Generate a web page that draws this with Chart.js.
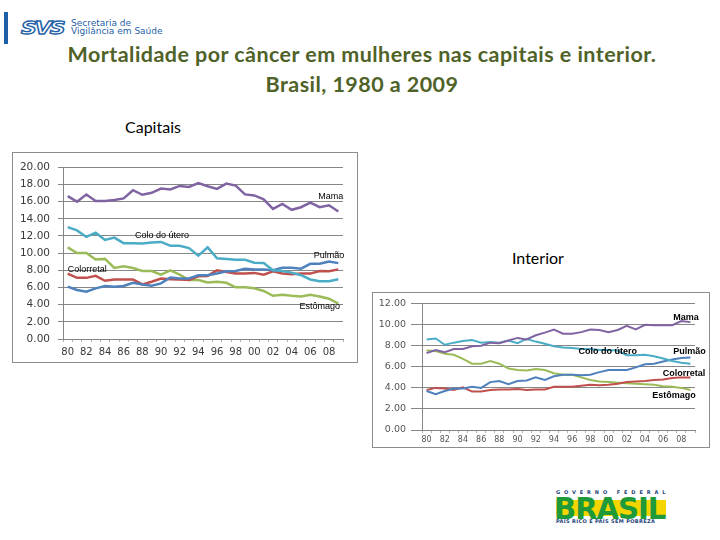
<!DOCTYPE html>
<html>
<head>
<meta charset="utf-8">
<script src="https://cdn.jsdelivr.net/npm/chart.js@4.4.1/dist/chart.umd.min.js"></script>
<style>
  html, body { margin: 0; padding: 0; background: #fff; }
  #slide { position: relative; width: 720px; height: 540px; overflow: hidden; font-family: Lato, "Liberation Sans", sans-serif; }
  .abs { position: absolute; white-space: nowrap; }
  .frame { position: absolute; border: 1px solid #8c8c8c; box-sizing: border-box; }
  .title { position: absolute; left: 0; width: 724px; text-align: center; color: #4f6228; font-weight: bold; font-size: 21.5px; letter-spacing: 0.45px; }
</style>
</head>
<body>
<div id="slide">
  <!-- SVS logo -->
  <div class="abs" style="left:4px;top:12px;width:4px;height:32px;background:#1f5fa8"></div>
  <div class="abs" style="left:21px;top:15px;font:italic 900 22px 'DejaVu Sans';color:#fff;-webkit-text-stroke:1.6px #1f5fa8;letter-spacing:-2px;transform:scaleY(0.8)">SVS</div>
  <div class="abs" style="left:71px;top:19px;font:9px 'DejaVu Sans';line-height:8px;color:#1f5fa8">Secretaria de<br>Vigilância em Saúde</div>

  <div class="title" style="top:41px">Mortalidade por câncer em mulheres nas capitais e interior.</div>
  <div class="title" style="top:71px">Brasil, 1980 a 2009</div>

  <div class="abs" style="left:125px;top:117px;font-size:16px;color:#000">Capitais</div>
  <div class="abs" style="left:512px;top:248px;font-size:16px;color:#000">Interior</div>

  <div class="frame" style="left:12px;top:152px;width:346px;height:211px"></div>
  <div class="abs" style="left:13px;top:153px;width:344px;height:209px"><canvas id="capitais"></canvas></div>

  <div class="frame" style="left:372px;top:292px;width:338px;height:156px"></div>
  <div class="abs" style="left:373px;top:293px;width:336px;height:154px"><canvas id="interior"></canvas></div>

  <!-- Governo Federal logo -->
  <div class="abs" style="left:556px;top:489px;font:bold 5px 'DejaVu Sans';letter-spacing:3.9px;color:#1d3f7a">GOVERNO FEDERAL</div>
  <div class="abs" style="left:556px;top:500px;width:110px;height:16px;background:#f4d500"></div>
  <div class="abs" style="left:554px;top:491px;font:900 30px 'DejaVu Sans Condensed','DejaVu Sans';color:#1e9a3a;letter-spacing:-1px;transform:scaleX(1.08);transform-origin:0 0">BRASIL</div>
  <div class="abs" style="left:556px;top:518px;font:bold 5px 'DejaVu Sans';letter-spacing:0.35px;color:#1d3f7a">PAÍS RICO É PAÍS SEM POBREZA</div>
</div>

<script>
// ---- data ----
const YEARS = ['80','81','82','83','84','85','86','87','88','89','90','91','92','93','94',
               '95','96','97','98','99','00','01','02','03','04','05','06','07','08','09'];

const SERIES = ['Mama', 'Colo do útero', 'Pulmão', 'Colorretal', 'Estômago'];
const COLORS = ['#8064a2', '#4bacc6', '#4f81bd', '#c0504d', '#9bbb59'];

// Capitais
const CAP_MAMA = [16.65,16.0,16.84,16.08,16.08,16.19,16.38,17.33,16.8,17.03,17.52,17.41,17.83,17.71,18.17,
                  17.79,17.49,18.1,17.87,16.84,16.72,16.27,15.16,15.73,15.05,15.35,15.89,15.35,15.58,14.86];
const CAP_COLO = [13.03,12.65,11.89,12.38,11.54,11.81,11.16,11.16,11.12,11.24,11.31,10.86,10.86,10.59,9.71,
                  10.67,9.41,9.33,9.22,9.22,8.88,8.84,8.0,7.92,7.73,7.43,6.93,6.74,6.74,6.97];
const CAP_PULMAO = [6.1,5.71,5.52,5.9,6.17,6.1,6.17,6.55,6.36,6.21,6.48,7.16,7.05,7.05,7.43,
                    7.43,7.62,7.89,7.92,8.19,8.11,8.11,8.0,8.3,8.3,8.19,8.76,8.76,9.03,8.84];
const CAP_COLORRETAL = [7.62,7.12,7.12,7.35,6.78,6.93,6.93,6.93,6.36,6.67,7.05,6.97,6.93,6.86,7.31,
                        7.35,8.0,7.81,7.62,7.62,7.7,7.5,7.89,7.62,7.54,7.62,7.62,7.92,7.89,8.11];
const CAP_ESTOMAGO = [10.67,10.02,10.02,9.26,9.33,8.27,8.46,8.27,7.92,7.92,7.5,8.0,7.5,6.86,6.86,
                      6.59,6.67,6.55,6.02,6.02,5.9,5.6,5.03,5.14,5.03,4.95,5.14,4.95,4.69,4.11];

// Interior
const INT_MAMA = [7.3,7.6,7.4,7.7,7.7,7.95,8.0,8.3,8.25,8.5,8.75,8.6,9.0,9.25,9.55,
                  9.15,9.15,9.3,9.55,9.5,9.3,9.5,9.9,9.55,10.0,9.95,9.95,9.95,10.35,10.25];
const INT_COLO = [8.6,8.7,8.1,8.3,8.45,8.55,8.3,8.35,8.3,8.5,8.25,8.65,8.4,8.2,7.95,
                  7.85,7.8,7.7,7.7,7.6,7.6,7.55,7.1,7.1,7.15,7.0,6.8,6.55,6.4,6.3];
const INT_PULMAO = [3.7,3.4,3.7,3.95,3.95,4.1,4.0,4.55,4.65,4.35,4.65,4.7,5.0,4.75,5.1,
                    5.25,5.25,5.2,5.25,5.5,5.7,5.7,5.7,5.95,6.25,6.3,6.5,6.7,6.85,6.9];
const INT_COLORRETAL = [3.8,4.0,3.95,3.8,4.05,3.65,3.65,3.8,3.85,3.85,3.9,3.8,3.85,3.85,4.1,
                        4.1,4.1,4.2,4.3,4.25,4.3,4.4,4.55,4.6,4.65,4.75,4.8,4.95,5.0,5.0];
const INT_ESTOMAGO = [7.55,7.5,7.25,7.15,6.75,6.3,6.3,6.55,6.3,5.85,5.7,5.65,5.8,5.7,5.4,
                      5.25,5.25,5.0,4.75,4.6,4.55,4.5,4.45,4.4,4.35,4.3,4.15,4.1,4.0,3.8];

const CAP_TICKS = [0, 2, 4, 6, 8, 10, 12, 14, 16, 18, 20];
const INT_TICKS = [0, 2, 4, 6, 8, 10, 12];

// ---- series name labels drawn next to the lines ----
const seriesLabels = {
  id: 'seriesLabels',
  afterDatasetsDraw(chart, args, opts) {
    const { ctx, scales: { x, y } } = chart;
    ctx.save();
    ctx.font = opts.font;
    ctx.fillStyle = '#000';
    ctx.textAlign = 'center';
    ctx.textBaseline = 'middle';
    opts.items.forEach(it => {
      ctx.fillText(it.text, x.getPixelForValue(it.at[0]), y.getPixelForValue(it.at[1]));
    });
    ctx.restore();
  }
};

function makeChart(id, seriesData, yTicks, o) {
  const ctx = document.getElementById(id);
  return new Chart(ctx, {
    type: 'line',
    data: {
      labels: YEARS,
      datasets: seriesData.map((d, i) => ({
        label: SERIES[i],
        data: d,
        borderColor: COLORS[i],
        borderWidth: o.lineWidth,
        pointRadius: 0,
        tension: 0,
        fill: false,
      })),
    },
    options: {
      responsive: true,
      maintainAspectRatio: false,
      animation: false,
      layout: { padding: { top: o.padTop, right: o.padRight, left: 0, bottom: 0 } },
      plugins: {
        legend: { display: false },
        tooltip: { enabled: false },
        seriesLabels: { font: o.labelFont, items: o.labels },
      },
      scales: {
        x: {
          type: 'category',
          offset: true,
          afterFit: (s) => { s.height = o.xHeight; },
          border: { color: '#868686' },
          grid: { display: true, drawOnChartArea: false, offset: true, tickLength: 3, color: '#b0b0b0' },
          ticks: {
            autoSkip: false,
            maxRotation: 0,
            padding: o.xPad,
            color: o.tickColor,
            font: { family: 'DejaVu Sans', size: o.xFont },
            callback: (v, i) => (i % 2 === 0 ? YEARS[i] : ''),
          },
        },
        y: {
          min: yTicks[0],
          max: yTicks[yTicks.length - 1],
          afterFit: (s) => { s.width = o.yWidth; },
          afterBuildTicks: (s) => { s.ticks = yTicks.map(v => ({ value: v })); },
          border: { color: '#868686' },
          grid: { color: '#868686', tickLength: o.yTick },
          ticks: {
            padding: o.yPad,
            color: o.tickColor,
            font: { family: 'DejaVu Sans', size: o.yFont },
            callback: (v) => v.toFixed(2),
          },
        },
      },
    },
    plugins: [seriesLabels],
  });
}

makeChart('capitais',
  [CAP_MAMA, CAP_COLO, CAP_PULMAO, CAP_COLORRETAL, CAP_ESTOMAGO],
  CAP_TICKS,
  {
    lineWidth: 2.5, padTop: 11, padRight: 14, xHeight: 23, yWidth: 50,
    xPad: 4, yPad: 8, yTick: 5, xFont: 10, yFont: 10.5, tickColor: '#3a3a3a',
    labelFont: '9px "Liberation Sans"',
    labels: [
      { text: 'Mama', at: [28.2, 16.6] },
      { text: 'Colo do útero', at: [10.1, 12.0] },
      { text: 'Pulmão', at: [28.0, 9.7] },
      { text: 'Colorretal', at: [2.1, 8.1] },
      { text: 'Estômago', at: [27.0, 3.8] },
    ],
  });

makeChart('interior',
  [INT_MAMA, INT_COLO, INT_PULMAO, INT_COLORRETAL, INT_ESTOMAGO],
  INT_TICKS,
  {
    lineWidth: 2, padTop: 6, padRight: 14, xHeight: 17, yWidth: 49,
    xPad: 2, yPad: 5, yTick: 11, xFont: 8, yFont: 9.5, tickColor: '#555',
    labelFont: 'bold 9px "Liberation Sans"',
    labels: [
      { text: 'Mama', at: [28.5, 10.7] },
      { text: 'Colo do útero', at: [19.9, 7.5] },
      { text: 'Pulmão', at: [28.9, 7.5] },
      { text: 'Colorretal', at: [28.3, 5.4] },
      { text: 'Estômago', at: [27.2, 3.3] },
    ],
  });
</script>
</body>
</html>
